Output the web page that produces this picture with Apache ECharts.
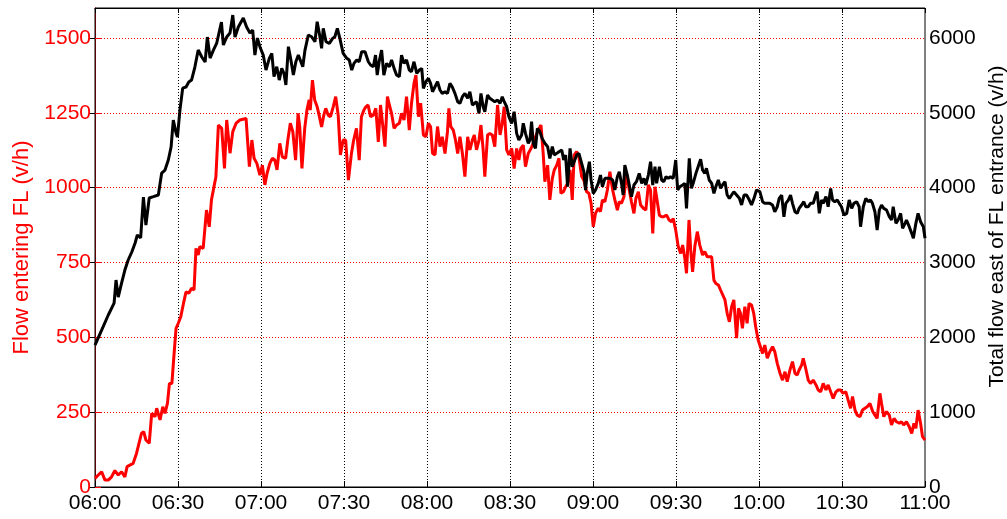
<!DOCTYPE html>
<html>
<head>
<meta charset="utf-8">
<script src="https://cdn.jsdelivr.net/npm/echarts@6/dist/echarts.min.js"></script>
<style>
html,body{margin:0;padding:0;background:#fff;}
#chart{width:1007px;height:519px;}
</style>
</head>
<body>
<div id="chart"></div>
<script>
// x tick labels (every 30 min from 06:00)
const timeLabels = ['06:00','06:30','07:00','07:30','08:00','08:30','09:00','09:30','10:00','10:30','11:00'];

// Flow entering FL (v/h), minutes after 06:00
const redMinutes = [0,1.2,2.4,3.6,4.8,6.0,7.2,8.4,9.6,10.8,11.6,12.6,13.8,15.0,15.9,16.8,17.6,18.4,19.6,20.5,21.7,22.3,23.5,24.5,25.3,26.2,26.9,27.8,28.6,29.3,30.1,31.0,32.0,32.9,33.9,34.9,35.8,36.5,37.3,37.9,39.1,40.3,41.3,42.1,43.0,43.7,44.6,45.8,46.8,47.6,48.8,49.8,51.0,52.4,54.6,55.8,56.7,57.5,58.5,
59.6,60.5,61.4,62.2,63.2,64.1,65.0,65.8,66.8,67.7,68.9,69.7,70.6,71.5,72.5,73.4,74.0,74.8,75.8,76.6,77.4,77.8,78.6,79.4,80.3,81.0,81.9,82.7,83.4,84.3,85.1,86.1,87.0,87.9,88.7,89.7,90.6,91.6,92.7,93.5,94.5,95.5,96.3,97.2,97.9,98.7,99.6,100.6,101.5,102.4,103.2,104.0,104.8,105.7,106.4,107.2,108.1,109.0,110.0,110.8,111.7,112.6,113.6,114.4,115.3,116.0,116.9,117.7,118.7,119.6,120.5,121.3,122.0,
122.9,123.8,124.7,125.5,126.5,127.4,127.9,128.6,129.5,130.3,131.1,131.9,132.8,133.7,134.7,135.5,136.4,137.1,137.9,138.8,139.5,140.3,140.9,141.9,142.7,143.6,144.5,145.5,146.4,147.2,147.9,148.8,149.6,150.6,151.5,152.4,153.2,153.9,154.8,155.6,156.6,157.6,158.4,159.2,160.2,161.2,162.0,162.6,163.6,164.4,165.3,166.0,166.9,167.7,168.4,169.3,170.1,170.8,171.7,172.5,173.2,174.1,174.9,175.9,176.7,177.7,178.5,179.3,180.1,180.9,181.9,182.7,183.4,184.3,185.2,
186.1,187.1,187.9,188.8,189.5,190.3,191.2,192.1,193.1,193.9,194.8,195.5,196.4,197.2,198.2,199.1,200.0,200.8,201.6,202.4,203.0,204.0,204.8,205.6,206.6,207.5,208.4,209.0,209.9,210.8,211.7,212.4,213.2,213.8,214.7,215.3,216.0,216.8,217.7,218.6,219.6,220.4,221.3,222.0,222.9,223.7,224.4,225.3,226.1,226.8,227.7,228.5,229.3,230.1,230.9,231.9,232.6,233.3,234.0,234.9,235.7,236.4,237.3,238.1,238.8,239.7,
240.3,241.3,242.1,243.0,243.9,244.9,245.7,246.6,247.6,248.5,249.4,250.2,251.2,252.1,253.0,253.8,254.5,255.4,256.0,257.0,257.8,258.6,259.6,260.6,261.4,262.3,263.2,264.2,265.0,265.9,266.8,267.8,268.6,269.5,270.4,271.4,272.2,273.1,273.8,274.7,275.5,276.5,277.4,278.3,279.1,280.1,281.1,281.9,282.7,283.7,284.3,285.1,286.1,287.1,287.9,288.8,289.7,290.7,291.5,292.3,293.3,294.3,295.2,296.0,296.7,297.5,298.4,299.1,300];
const redFlow = [29,40,51,23,23,34,55,40,51,34,68,73,79,112,146,179,185,157,146,246,235,263,224,268,246,280,346,346,447,530,547,569,614,652,647,664,658,797,775,803,797,925,869,959,1003,1036,1209,1198,1064,1226,1115,1187,1215,1226,1231,1070,1159,1098,1081,
1042,1075,1009,1048,1081,1098,1092,1059,1148,1103,1098,1159,1215,1187,1092,1248,1203,1064,1198,1259,1293,1259,1359,1293,1270,1242,1203,1242,1265,1242,1237,1270,1304,1242,1109,1159,1159,1025,1115,1159,1198,1092,1237,1259,1270,1276,1237,1242,1265,1153,1276,1209,1137,1304,1276,1248,1198,1209,1215,1248,1226,1304,1192,1282,1348,1376,1237,1282,1176,1170,1215,1203,1115,
1109,1204,1137,1170,1114,1187,1265,1204,1192,1159,1114,1170,1114,1037,1170,1126,1159,1176,1126,1159,1209,1126,1037,1176,1181,1176,1137,1276,1176,1215,1270,1126,1109,1131,1064,1131,1092,1131,1142,1070,1114,1131,1148,1170,1192,1209,1114,1020,1075,959,1031,1059,1075,1098,981,986,1003,1014,1059,959,1109,1120,1103,1037,1025,986,981,948,869,914,931,920,959,953,992,
1053,992,959,925,953,948,970,1048,992,953,914,964,986,942,931,925,1009,992,847,1003,1003,908,903,903,908,892,886,897,858,803,780,808,764,714,892,792,719,803,853,808,775,786,769,769,769,691,680,675,658,658,625,580,552,602,625,497,597,580,530,602,547,613,608,580,535,491,
497,446,474,430,452,469,452,413,380,357,385,352,391,419,380,374,391,407,430,391,357,346,357,341,324,318,346,324,341,318,296,318,324,324,313,318,291,263,302,257,240,235,257,263,268,279,252,240,229,313,279,235,252,240,207,229,218,213,218,207,218,201,179,213,196,257,213,168,157];

// Total flow east of FL entrance (v/h), minutes after 06:00
const blackMinutes = [0,2.4,4.8,6.9,7.6,8.4,9.6,10.8,12.0,13.3,14.5,15.3,16.5,17.5,18.4,19.6,21.1,22.9,24.1,25.3,26.5,27.5,28.3,29.3,29.8,30.7,31.7,32.9,33.9,34.9,36.1,37.3,38.6,39.8,40.6,41.6,42.8,44.0,45.7,46.4,47.6,48.8,49.8,50.6,51.8,53.6,54.8,56.0,57.0,57.8,58.7,
59.6,60.8,61.8,63.0,63.9,64.7,65.7,66.6,67.5,68.3,69.0,69.9,70.7,71.7,72.6,73.5,74.1,75.1,75.9,77.1,78.3,79.5,80.3,81.3,81.9,82.5,83.5,84.7,85.9,86.7,87.6,88.5,89.7,91.0,91.9,92.8,93.6,94.6,95.5,96.4,97.6,98.8,99.6,100.6,101.4,102.0,102.7,103.6,104.4,105.4,106.4,107.2,108.1,109.0,110.0,110.8,111.7,112.6,113.6,114.4,115.3,116.3,117.2,118.1,118.7,119.6,120.5,121.3,122.0,
122.9,123.8,124.7,125.5,126.5,127.4,128.3,129.1,130.1,131.1,131.9,132.8,133.7,134.7,135.5,136.4,137.1,137.9,138.8,139.5,140.3,140.9,141.9,142.7,143.6,144.5,145.5,146.4,147.2,147.9,148.8,149.6,150.6,151.5,152.4,153.2,154.2,154.8,155.6,156.6,157.2,157.8,158.4,159.2,159.9,160.8,161.6,162.6,163.6,164.4,165.3,166.0,166.9,167.7,168.7,169.4,170.1,170.8,171.7,172.5,173.2,174.1,174.9,175.9,176.7,177.3,177.9,178.7,179.3,180.1,180.9,181.9,182.7,183.4,184.3,185.2,
186.1,187.1,187.9,188.8,189.5,190.3,190.9,191.5,192.4,193.1,193.9,194.8,195.7,196.7,197.6,198.4,199.1,200.0,200.8,201.6,202.4,203.0,204.0,204.8,205.6,206.4,207.2,208.0,209.0,209.9,210.6,211.4,212.4,213.2,213.8,214.8,215.6,216.2,217.2,218.0,218.9,219.6,220.4,221.0,222.0,222.9,223.7,224.4,225.3,226.1,226.8,227.7,228.5,229.3,230.1,230.9,231.9,232.9,233.7,234.6,235.5,236.5,237.3,238.2,239.1,
240.3,241.3,242.1,243.0,243.9,244.9,245.7,246.6,247.3,248.2,249.0,249.7,250.6,251.4,252.1,253.0,253.8,254.5,255.4,256.2,256.9,257.8,258.6,259.6,260.5,261.0,261.8,262.6,263.2,264.2,265.0,265.9,266.6,267.4,268.3,269.0,269.8,270.7,271.7,272.6,273.5,274.3,275.3,276.2,276.7,277.7,278.6,279.5,280.3,281.0,281.9,282.7,283.5,284.3,285.1,286.1,287.1,287.9,288.5,289.5,290.3,291.2,291.9,292.8,293.3,294.3,295.2,295.8,296.7,297.5,298.4,299.4,300];
const blackFlow = [1897,2097,2298,2458,2765,2538,2725,2899,3033,3140,3260,3367,3327,3874,3500,3861,3879,3901,4195,4235,4369,4542,4903,4729,4676,5037,5330,5344,5411,5437,5611,5838,5745,5678,6012,5731,5838,5932,6212,5905,6012,6065,6306,6012,6146,6266,6146,6065,6105,5771,5998,
5883,5771,5571,5727,5794,5482,5615,5437,5593,5527,5371,5883,5727,5504,5682,5771,5749,5615,5838,6039,6016,5949,6216,6016,5861,6128,5949,5927,5994,6016,6128,5994,5794,5727,5705,5571,5660,5705,5682,5816,5816,5682,5638,5615,5771,5504,5682,5838,5504,5660,5615,5705,5593,5504,5482,5771,5660,5705,5571,5549,5682,5527,5571,5593,5326,5415,5460,5393,5281,
5348,5415,5304,5259,5282,5259,5393,5348,5259,5148,5126,5215,5259,5193,5282,5104,5081,5148,4992,5259,5081,5014,5237,5193,5170,5148,5170,5126,5215,5148,5081,4948,4859,5014,4725,4636,4703,4859,4725,4592,4636,4881,4592,4525,4792,4747,4658,4592,4547,4391,4547,4436,4458,4480,4502,4369,4436,4012,4525,4279,4302,4436,4458,4324,4213,3968,4190,4346,4102,3923,3968,4057,4168,4012,4124,4124,
4124,4102,3968,4146,4213,4057,3901,4302,4168,4035,3878,4035,4079,4190,4057,4124,4035,4168,4346,4035,4280,4057,4280,4102,4079,4146,4124,4146,4124,4369,3968,4012,4035,4057,3723,4391,3990,4057,4190,4280,4378,4235,4190,4258,4102,4057,3923,4012,4102,3990,4035,4079,3901,3857,3901,3945,3901,3857,3768,3901,3901,3834,3768,3857,3968,
3946,3812,3790,3790,3790,3768,3678,3745,3857,3901,3611,3790,3834,3901,3790,3678,3656,3723,3768,3812,3745,3745,3790,3790,3901,3946,3656,3834,3790,3879,3745,3990,3834,3812,3834,3790,3745,3634,3656,3834,3723,3790,3812,3745,3478,3745,3857,3812,3834,3790,3678,3434,3701,3768,3723,3701,3611,3567,3745,3523,3567,3656,3456,3523,3567,3478,3389,3323,3523,3656,3545,3478,3323];

const zip = (xs, ys) => xs.map((x, i) => [x, ys[i]]);

const chart = echarts.init(document.getElementById('chart'), null, {renderer: 'canvas'});
const FONT = 'Liberation Sans, Arial, sans-serif';

chart.setOption({
  animation: false,
  backgroundColor: '#fff',
  grid: {left: 95, right: 82, top: 8, bottom: 32, outerBoundsMode: 'none', containLabel: false,
         show: true, borderColor: '#000', borderWidth: 1, backgroundColor: 'transparent'},
  xAxis: [{
    type: 'value', min: 0, max: 300, interval: 30,
    axisLine: {show: true, onZero: false, lineStyle: {color: '#000', width: 1}},
    axisTick: {show: true, inside: true, length: 6, lineStyle: {color: '#000'}},
    axisLabel: {color: '#000', fontSize: 21, fontFamily: FONT, margin: 6,
      formatter: v => timeLabels[Math.round(v / 30)]},
    splitLine: {show: true, showMinLine: false, showMaxLine: false,
      lineStyle: {color: '#000', type: [1, 2], width: 1}}
  }, {
    type: 'value', min: 0, max: 300, interval: 30, position: 'top',
    axisLine: {show: true, onZero: false, lineStyle: {color: '#000', width: 1}},
    axisTick: {show: true, inside: true, length: 5, lineStyle: {color: '#000'}},
    axisLabel: {show: false}, splitLine: {show: false}
  }],
  yAxis: [{
    type: 'value', min: 0, max: 1600, interval: 250, position: 'left',
    name: 'Flow entering FL (v/h)', nameLocation: 'middle', nameGap: 62, nameRotate: 90,
    nameTextStyle: {color: '#ff0000', fontSize: 22, fontFamily: FONT},
    axisLine: {show: true, lineStyle: {color: '#ff0000', width: 1}},
    axisTick: {show: true, inside: true, length: 6, lineStyle: {color: '#ff0000'}},
    axisLabel: {color: '#ff0000', fontSize: 21, fontFamily: FONT, margin: 4, showMaxLabel: false,
      formatter: v => String(v)},
    splitLine: {show: true, showMinLine: false, showMaxLine: false,
      lineStyle: {color: '#ff0000', type: [1, 2], width: 1}}
  }, {
    type: 'value', min: 0, max: 6400, interval: 1000, position: 'right',
    name: 'Total flow east of FL entrance (v/h)', nameLocation: 'middle', nameGap: 55, nameRotate: 90,
    nameTextStyle: {color: '#000', fontSize: 21, fontFamily: FONT, padding: [0, 0, 0, 42]},
    axisLine: {show: true, lineStyle: {color: '#5a0000', width: 1}},
    axisTick: {show: true, inside: true, length: 6, lineStyle: {color: '#000'}},
    axisLabel: {color: '#000', fontSize: 21, fontFamily: FONT, margin: 4, showMaxLabel: false,
      formatter: v => String(v)},
    splitLine: {show: false}
  }],
  series: [{
    name: 'Flow entering FL', type: 'line', xAxisIndex: 0, yAxisIndex: 0,
    data: zip(redMinutes, redFlow), showSymbol: false, symbol: 'none',
    lineStyle: {color: '#ff0000', width: 3}, z: 3
  }, {
    name: 'Total flow east of FL entrance', type: 'line', xAxisIndex: 0, yAxisIndex: 1,
    data: zip(blackMinutes, blackFlow), showSymbol: false, symbol: 'none',
    lineStyle: {color: '#000', width: 3}, z: 4
  }]
});
</script>
</body>
</html>
